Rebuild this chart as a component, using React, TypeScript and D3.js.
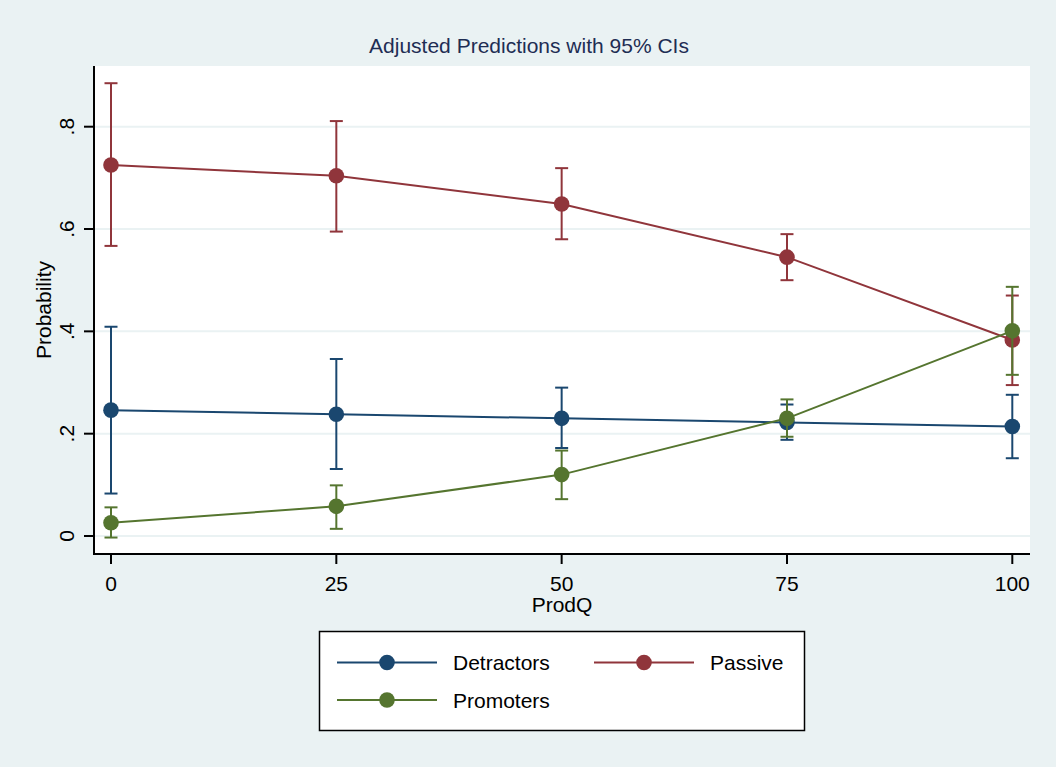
import React from "react";
import * as d3 from "d3";

// ProdQ levels
const prodQ = [0, 25, 50, 75, 100];

// predicted probabilities and 95% CI bounds
const detractorsMid = [0.246, 0.238, 0.23, 0.222, 0.214];
const detractorsLo = [0.083, 0.131, 0.172, 0.188, 0.152];
const detractorsHi = [0.409, 0.346, 0.29, 0.257, 0.276];

const passiveMid = [0.725, 0.704, 0.649, 0.545, 0.383];
const passiveLo = [0.567, 0.595, 0.58, 0.5, 0.295];
const passiveHi = [0.885, 0.811, 0.719, 0.59, 0.47];

const promotersMid = [0.026, 0.058, 0.12, 0.23, 0.401];
const promotersLo = [-0.003, 0.014, 0.072, 0.194, 0.315];
const promotersHi = [0.056, 0.099, 0.167, 0.267, 0.487];

const yTicks = [0, 0.2, 0.4, 0.6, 0.8];
const yTickLabels = ["0", ".2", ".4", ".6", ".8"];

const series = [
  { name: "Detractors", color: "#1a476f", mid: detractorsMid, lo: detractorsLo, hi: detractorsHi },
  { name: "Passive", color: "#90353b", mid: passiveMid, lo: passiveLo, hi: passiveHi },
  { name: "Promoters", color: "#55752f", mid: promotersMid, lo: promotersLo, hi: promotersHi },
];

const W = 1056;
const H = 767;
const plot = { left: 94, top: 66, right: 1030, bottom: 554 };
const font = "'Liberation Sans', Arial, sans-serif";
const fs = 21;

export default function App() {
  const x = d3.scaleLinear().domain([0, 100]).range([111, 1012.3]);
  const y = d3.scaleLinear().domain([0, 0.8]).range([536, 126.7]);

  const line = d3
    .line<number>()
    .x((_, i) => x(prodQ[i]))
    .y((d) => y(d));

  // legend layout
  const legendItems = [
    { s: series[0], lx: 337, ly: 662.5 },
    { s: series[1], lx: 594, ly: 662.5 },
    { s: series[2], lx: 337, ly: 700 },
  ];

  return (
    <svg
      width={W}
      height={H}
      style={{ position: "absolute", left: 0, top: 0, display: "block" }}
      fontFamily={font}
    >
      <rect width={W} height={H} fill="#eaf2f3" />
      <rect
        x={plot.left}
        y={plot.top}
        width={plot.right - plot.left}
        height={plot.bottom - plot.top}
        fill="#ffffff"
      />

      {/* gridlines */}
      {yTicks.map((t) => (
        <line
          key={"g" + t}
          x1={plot.left}
          x2={plot.right}
          y1={y(t)}
          y2={y(t)}
          stroke="#eaf2f3"
          strokeWidth={2}
        />
      ))}

      {/* title */}
      <text x={529} y={53} textAnchor="middle" fontSize={fs} fill="#1e2d53">
        Adjusted Predictions with 95% CIs
      </text>

      {/* series: CI caps, then line and markers */}
      {series.map((s) => (
        <g key={s.name}>
          {prodQ.map((q, i) => (
            <g key={q} stroke={s.color} strokeWidth={2}>
              <line x1={x(q)} x2={x(q)} y1={y(s.lo[i])} y2={y(s.hi[i])} />
              <line x1={x(q) - 6.5} x2={x(q) + 6.5} y1={y(s.lo[i])} y2={y(s.lo[i])} />
              <line x1={x(q) - 6.5} x2={x(q) + 6.5} y1={y(s.hi[i])} y2={y(s.hi[i])} />
            </g>
          ))}
          <path d={line(s.mid) ?? ""} fill="none" stroke={s.color} strokeWidth={2} />
          {prodQ.map((q, i) => (
            <circle key={"c" + q} cx={x(q)} cy={y(s.mid[i])} r={7.8} fill={s.color} />
          ))}
        </g>
      ))}

      {/* axes */}
      <line x1={plot.left} x2={plot.left} y1={plot.top} y2={plot.bottom + 1} stroke="#000" strokeWidth={2} />
      <line x1={plot.left - 1} x2={plot.right} y1={plot.bottom} y2={plot.bottom} stroke="#000" strokeWidth={2} />

      {yTicks.map((t, i) => (
        <g key={"yt" + t}>
          <line x1={plot.left - 10} x2={plot.left} y1={y(t)} y2={y(t)} stroke="#000" strokeWidth={2} />
          <text
            transform={`translate(74,${y(t)}) rotate(-90)`}
            textAnchor="middle"
            fontSize={fs}
            fill="#000"
          >
            {yTickLabels[i]}
          </text>
        </g>
      ))}
      <text
        transform={`translate(51,${(plot.top + plot.bottom) / 2}) rotate(-90)`}
        textAnchor="middle"
        fontSize={fs}
        fill="#000"
      >
        Probability
      </text>

      {prodQ.map((q) => (
        <g key={"xt" + q}>
          <line x1={x(q)} x2={x(q)} y1={plot.bottom} y2={plot.bottom + 10} stroke="#000" strokeWidth={2} />
          <text x={x(q)} y={591} textAnchor="middle" fontSize={fs} fill="#000">
            {q}
          </text>
        </g>
      ))}
      <text x={(plot.left + plot.right) / 2} y={612} textAnchor="middle" fontSize={fs} fill="#000">
        ProdQ
      </text>

      {/* legend */}
      <rect x={319.5} y={631.5} width={485} height={99} fill="#fff" stroke="#000" strokeWidth={1.5} />
      {legendItems.map(({ s, lx, ly }) => (
        <g key={"l" + s.name}>
          <line x1={lx} x2={lx + 100} y1={ly} y2={ly} stroke={s.color} strokeWidth={2} />
          <circle cx={lx + 50} cy={ly} r={7.8} fill={s.color} />
          <text x={lx + 116} y={ly + 7.5} fontSize={fs} fill="#000">
            {s.name}
          </text>
        </g>
      ))}
    </svg>
  );
}
